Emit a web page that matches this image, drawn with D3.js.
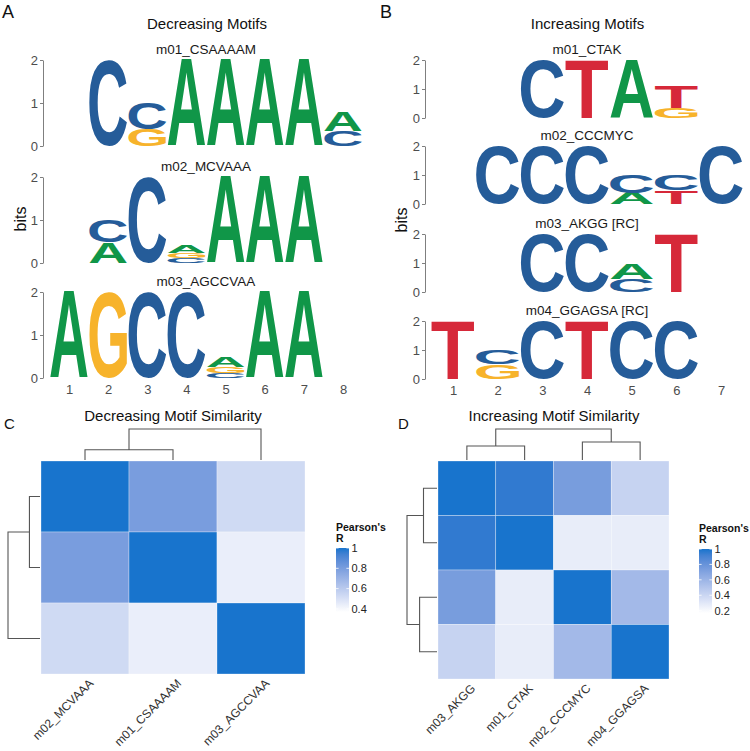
<!DOCTYPE html>
<html><head><meta charset="utf-8">
<script src="https://cdn.jsdelivr.net/npm/d3@7"></script>
<style>body{margin:0;background:#fff} svg{display:block} text{font-family:"Liberation Sans",Arial,Helvetica,sans-serif}</style>
</head><body><svg id="c" width="750" height="751"></svg>
<script>
// ---------------- DATA ----------------
// Sequence logos: each entry = [position, [[letter, bits], ... bottom -> top]]
const decTitles = ["m01_CSAAAAM", "m02_MCVAAA", "m03_AGCCVAA"];
const decM01 = [[2, [["C", 2.0]]], [3, [["G", 0.38], ["C", 0.62]]], [4, [["A", 2.0]]], [5, [["A", 2.0]]], [6, [["A", 2.0]]], [7, [["A", 2.0]]], [8, [["C", 0.35], ["A", 0.45]]]];
const decM02 = [[2, [["A", 0.49], ["C", 0.51]]], [3, [["C", 2.0]]], [4, [["C", 0.11], ["G", 0.13], ["A", 0.19]]], [5, [["A", 2.0]]], [6, [["A", 2.0]]], [7, [["A", 2.0]]]];
const decM03 = [[1, [["A", 2.0]]], [2, [["G", 2.0]]], [3, [["C", 2.0]]], [4, [["C", 2.0]]], [5, [["C", 0.12], ["G", 0.14], ["A", 0.23]]], [6, [["A", 2.0]]], [7, [["A", 2.0]]]];
const decPositions = [1, 2, 3, 4, 5, 6, 7, 8];

const incTitles = ["m01_CTAK", "m02_CCCMYC", "m03_AKGG [RC]", "m04_GGAGSA [RC]"];
const incM01 = [[3, [["C", 2.0]]], [4, [["T", 2.0]]], [5, [["A", 2.0]]], [6, [["G", 0.34], ["T", 0.76]]]];
const incM02 = [[2, [["C", 2.0]]], [3, [["C", 2.0]]], [4, [["C", 2.0]]], [5, [["A", 0.38], ["C", 0.63]]], [6, [["T", 0.46], ["C", 0.52]]], [7, [["C", 2.0]]]];
const incM03 = [[3, [["C", 2.0]]], [4, [["C", 2.0]]], [5, [["C", 0.45], ["A", 0.55]]], [6, [["T", 2.0]]]];
const incM04 = [[1, [["T", 2.0]]], [2, [["G", 0.5], ["C", 0.5]]], [3, [["C", 2.0]]], [4, [["T", 2.0]]], [5, [["C", 2.0]]], [6, [["C", 2.0]]]];
const incPositions = [1, 2, 3, 4, 5, 6, 7];
const bitTicks = [0, 1, 2];

// Similarity heatmaps
const decSimLabels = ["m02_MCVAAA", "m01_CSAAAAM", "m03_AGCCVAA"];
const decSim = [[1.00, 0.80, 0.53], [0.80, 1.00, 0.44], [0.53, 0.44, 1.00]];
const decTree = {h: 1.0, children: [{h: 0.33, children: [0, 1]}, 2]};
const decLegendTicks = [0.4, 0.6, 0.8, 1];
const decRange = [0.37, 1.0];

const incSimLabels = ["m03_AKGG", "m01_CTAK", "m02_CCCMYC", "m04_GGAGSA"];
const incSim = [[1.00, 0.96, 0.74, 0.42], [0.96, 1.00, 0.27, 0.27], [0.74, 0.27, 1.00, 0.57], [0.42, 0.27, 0.57, 1.00]];
const incTree = {h: 1.0, children: [{h: 0.45, children: [0, 1]}, {h: 0.58, children: [2, 3]}]};
const incLegendTicks = [0.2, 0.4, 0.6, 0.8, 1];
const incRange = [0.17, 1.0];

// ---------------- STYLE ----------------
const nucColors = {A: "#109648", C: "#255C99", G: "#F7B32B", T: "#D62839"};
const FONT = "Liberation Sans";
const svg = d3.select("#c");

// measure glyph ink boxes
const cv = document.createElement("canvas");
const ctx = cv.getContext("2d");
ctx.font = `bold 200px '${FONT}'`;
const ink = {};
for (const ch of "ACGT") {
  const m = ctx.measureText(ch);
  ink[ch] = {l: -m.actualBoundingBoxLeft, r: m.actualBoundingBoxRight, t: -m.actualBoundingBoxAscent, b: m.actualBoundingBoxDescent};
}
function drawLetter(g, ch, x0, x1, yTop, yBot) {
  const k = ink[ch];
  const sx = (x1 - x0) / (k.r - k.l), sy = (yBot - yTop) / (k.b - k.t);
  g.append("text").text(ch)
    .attr("font-family", FONT).attr("font-weight", "bold").attr("font-size", 200)
    .attr("fill", nucColors[ch])
    .attr("transform", `translate(${x0},${yTop}) scale(${sx},${sy}) translate(${-k.l},${-k.t})`);
}

function drawLogo(motif, title, x, zero, h, axisX, showX, positions) {
  const g = svg.append("g");
  const y = d3.scaleLinear().domain([0, 2]).range([zero, zero - h]);
  const step = x(2) - x(1);
  const w = step * 0.96;
  for (const [pos, stack] of motif) {
    let cum = 0;
    for (const [ch, bits] of stack) {
      drawLetter(g, ch, x(pos) - w / 2, x(pos) + w / 2, y(cum + bits), y(cum));
      cum += bits;
    }
  }
  const ax = g.append("g").attr("transform", `translate(${axisX},0)`)
    .call(d3.axisLeft(y).tickValues(bitTicks).tickSize(3).tickSizeOuter(0).tickPadding(2).tickFormat(d3.format("d")));
  ax.select(".domain").attr("stroke", "#7f7f7f");
  ax.selectAll(".tick line").attr("stroke", "#7f7f7f");
  ax.selectAll("text").attr("font-family", FONT).attr("font-size", 13).attr("fill", "#4d4d4d");
  const cx = (x.range()[0] + x.range()[1]) / 2;
  g.append("text").text(title).attr("x", cx).attr("y", zero - h - 6.5)
    .attr("text-anchor", "middle").attr("font-size", 13.5).attr("fill", "#1a1a1a");
  if (showX) {
    const bx = g.append("g").attr("transform", `translate(0,${zero + 4})`)
      .call(d3.axisBottom(x).tickValues(positions).tickSize(0).tickPadding(3).tickFormat(d3.format("d")));
    bx.select(".domain").remove();
    bx.selectAll("text").attr("font-family", FONT).attr("font-size", 13).attr("fill", "#4d4d4d");
  }
}

// ---------------- PANEL A ----------------
const xA = d3.scaleLinear().domain([1, 8]).range([69, 343]);
const decMotifs = [decM01, decM02, decM03];
const zA = [146, 263, 378];
decMotifs.forEach((m, i) => drawLogo(m, decTitles[i], xA, zA[i], 86, 43, i === 2, decPositions));
svg.append("text").text("Decreasing Motifs").attr("x", 207).attr("y", 28.5).attr("text-anchor", "middle").attr("font-size", 15).attr("fill", "#111");
svg.append("text").text("bits").attr("transform", "translate(20,219) rotate(-90)").attr("text-anchor", "middle").attr("dy", "0.35em").attr("font-size", 16).attr("fill", "#111");
svg.append("text").text("A").attr("x", 2).attr("y", 18).attr("font-size", 18).attr("fill", "#111");

// ---------------- PANEL B ----------------
const xB = d3.scaleLinear().domain([1, 7]).range([453, 721]);
const incMotifs = [incM01, incM02, incM03, incM04];
const zB = [118, 204, 292, 379];
incMotifs.forEach((m, i) => drawLogo(m, incTitles[i], xB, zB[i], 58, 425, i === 3, incPositions));
svg.append("text").text("Increasing Motifs").attr("x", 587.5).attr("y", 28.5).attr("text-anchor", "middle").attr("font-size", 15).attr("fill", "#111");
svg.append("text").text("bits").attr("transform", "translate(401,220) rotate(-90)").attr("text-anchor", "middle").attr("dy", "0.35em").attr("font-size", 16).attr("fill", "#111");
svg.append("text").text("B").attr("x", 380).attr("y", 18).attr("font-size", 18).attr("fill", "#111");

// ---------------- HEATMAPS ----------------
function drawHeat(o) {
  const g = svg.append("g");
  const xs = d3.scaleBand().domain(o.labels).range([o.x0, o.x1]);
  const ys = d3.scaleBand().domain(o.labels).range([o.y0, o.y1]);
  const col = d3.scaleSequential(d3.interpolateLab("#ffffff", "#1874CD")).domain(o.range);
  o.labels.forEach((rl, i) => o.labels.forEach((cl, j) => {
    g.append("rect").attr("x", xs(cl)).attr("y", ys(rl)).attr("width", xs.bandwidth()).attr("height", ys.bandwidth())
      .attr("fill", col(o.matrix[i][j])).attr("stroke", "#ffffff").attr("stroke-opacity", 0.5).attr("stroke-width", 0.6);
  }));
  // dendrograms
  const colH = d3.scaleLinear().domain([0, 1]).range([o.y0 - 1, o.colTop]);
  const rowH = d3.scaleLinear().domain([0, 1]).range([o.x0 - 1, o.rowLeft]);
  function walk(node, band, path, horizontal) {
    if (typeof node === "number") return {p: band(o.labels[node]) + band.bandwidth() / 2, h: 0};
    const [a, b] = node.children.map(c => walk(c, band, path, horizontal));
    if (!horizontal) path.push(`M${a.p},${colH(a.h)}V${colH(node.h)}H${b.p}V${colH(b.h)}`);
    else path.push(`M${rowH(a.h)},${a.p}H${rowH(node.h)}V${b.p}H${rowH(b.h)}`);
    return {p: (a.p + b.p) / 2, h: node.h};
  }
  const pc = [], pr = [];
  walk(o.tree, xs, pc, false);
  walk(o.tree, ys, pr, true);
  g.append("path").attr("d", pc.join("")).attr("fill", "none").attr("stroke", "#555").attr("stroke-width", 1.1);
  g.append("path").attr("d", pr.join("")).attr("fill", "none").attr("stroke", "#555").attr("stroke-width", 1.1);
  // axis labels
  o.labels.forEach(l => {
    g.append("text").text(l)
      .attr("transform", `translate(${xs(l) + xs.bandwidth() / 2 + 3},${o.y1 + 4}) rotate(-45)`)
      .attr("text-anchor", "end").attr("dy", "0.72em").attr("font-size", 12).attr("fill", "#333");
  });
  // title
  g.append("text").text(o.title).attr("x", o.titleX).attr("y", o.titleY).attr("text-anchor", "middle").attr("font-size", 15).attr("fill", "#111");
  g.append("text").text(o.letter).attr("x", o.letterX).attr("y", o.letterY).attr("font-size", 15).attr("fill", "#111");
  // legend
  const ly = d3.scaleLinear().domain(o.range).range([o.lb1, o.lb0]);
  const gid = "grad" + o.letter;
  const grad = svg.append("defs").append("linearGradient").attr("id", gid).attr("x1", 0).attr("x2", 0).attr("y1", 1).attr("y2", 0);
  d3.range(0, 1.0001, 0.1).forEach(t => grad.append("stop").attr("offset", t).attr("stop-color", col(o.range[0] + t * (o.range[1] - o.range[0]))));
  g.append("rect").attr("x", o.lx).attr("y", o.lb0).attr("width", 13).attr("height", o.lb1 - o.lb0).attr("fill", `url(#${gid})`);
  o.ticks.forEach(t => {
    g.append("line").attr("x1", o.lx).attr("x2", o.lx + 2.6).attr("y1", ly(t)).attr("y2", ly(t)).attr("stroke", "#fff").attr("stroke-width", 0.8);
    g.append("line").attr("x1", o.lx + 10.4).attr("x2", o.lx + 13).attr("y1", ly(t)).attr("y2", ly(t)).attr("stroke", "#fff").attr("stroke-width", 0.8);
    g.append("text").text(d3.format("~g")(t)).attr("x", o.lx + 15.5).attr("y", ly(t)).attr("dy", "0.35em").attr("font-size", 11).attr("fill", "#222");
  });
  g.append("text").text("Pearson's").attr("x", o.lx).attr("y", o.lb0 - 17).attr("font-size", 10.5).attr("font-weight", "bold").attr("fill", "#111");
  g.append("text").text("R").attr("x", o.lx).attr("y", o.lb0 - 6).attr("font-size", 10.5).attr("font-weight", "bold").attr("fill", "#111");
}

drawHeat({labels: decSimLabels, matrix: decSim, tree: decTree, range: decRange, ticks: decLegendTicks,
  x0: 41, x1: 305, y0: 461, y1: 674, colTop: 429, rowLeft: 8,
  title: "Decreasing Motif Similarity", titleX: 173, titleY: 421, letter: "C", letterX: 4, letterY: 429,
  lx: 336, lb0: 548, lb1: 612});
drawHeat({labels: incSimLabels, matrix: incSim, tree: incTree, range: incRange, ticks: incLegendTicks,
  x0: 438, x1: 669, y0: 461, y1: 679, colTop: 429, rowLeft: 407,
  title: "Increasing Motif Similarity", titleX: 554, titleY: 421, letter: "D", letterX: 398, letterY: 429,
  lx: 699, lb0: 549, lb1: 613});
</script></body></html>
